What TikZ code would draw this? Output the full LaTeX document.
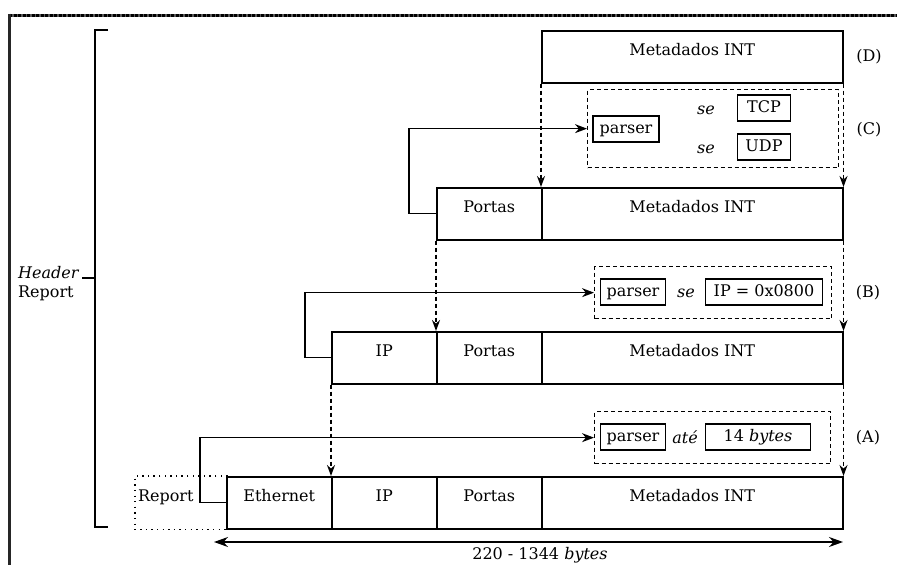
\documentclass[tikz,border=0pt]{standalone}
\usepackage{fontspec}
\setmainfont{DejaVu Serif}
\usetikzlibrary{arrows.meta}
\begin{document}
\begin{tikzpicture}[x=1pt,y=-1pt,
  every node/.style={font=\fontsize{16}{19}\selectfont},
  cell/.style={draw, line width=1.5pt, inner sep=0pt, anchor=north west,
    minimum height=52pt, text height=25pt, text depth=27pt},
  wide/.style={cell, minimum width=301pt},
  narrow/.style={cell, minimum width=105pt},
  tag/.style={draw, line width=1.4pt, inner sep=0pt, minimum height=26pt, text height=12pt, text depth=3.5pt},
  frame/.style={draw, line width=1.3pt, dash pattern=on 4pt off 3pt, inner sep=0pt, anchor=north west},
  plain/.style={inner sep=0pt},
  flow/.style={line width=1.4pt, -{Stealth[length=12pt,width=9pt]}},
  drop/.style={line width=1.4pt, dash pattern=on 4pt off 3pt, -{Stealth[length=11pt,width=8pt]}},
  span/.style={line width=1.4pt, {Stealth[length=14pt,width=10pt]}-{Stealth[length=14pt,width=10pt]}},
]
\useasboundingbox (0,0) rectangle (897,565);

% page frame
\draw[line width=3pt, black!65] (9,15) -- (897,15);
\draw[line width=3pt, black, dash pattern=on 3pt off 1.5pt] (9,15) -- (897,15);
\draw[line width=3pt, black!85] (9.5,13.5) -- (9.5,565);

% bracket with its label
\coordinate (bt) at (108,30);
\coordinate (bb) at (108,527);
\coordinate (bm) at (82,278);
\draw[line width=1.4pt] (bt) -- (95,30) -- (95,527) -- (bb);
\draw[line width=1.4pt] (95,278) -- (bm);
\node[plain, align=left, anchor=north west] (hdr) at (18,266) {\textit{Header}\\Report};

% (D)
\node[wide] (dm) at (541,30) {Metadados INT};
\node[plain] (lD) at (869,57) {(D)};

% (C) parser
\node[frame, minimum width=251pt, minimum height=78pt] (fc) at (587,89) {};
\node[tag, minimum width=66pt] (pc) at (626,129) {parser};
\node[plain] (sc1) at (706,110) {\textit{se}};
\node[plain] (sc2) at (706,149) {\textit{se}};
\node[tag, minimum width=53pt] (tcp) at (764,108) {TCP};
\node[tag, minimum width=53pt] (udp) at (764,147) {UDP};
\node[plain] (lC) at (869,130) {(C)};

% row after (C)
\node[narrow] (cp) at (436,187) {Portas};
\node[wide] (cm) at (541,187) {Metadados INT};

% (B) parser
\node[frame, minimum width=237pt, minimum height=52pt] (fb) at (594,266) {};
\node[tag, minimum width=65pt] (pb) at (633,292) {parser};
\node[plain] (sb) at (686,293) {\textit{se}};
\node[tag, minimum width=117pt] (ipb) at (764,292) {IP = 0x0800};
\node[plain] (lB) at (868,293) {(B)};

% row after (B)
\node[narrow] (bi) at (331,331) {IP};
\node[narrow] (bp) at (436,331) {Portas};
\node[wide] (bm2) at (541,331) {Metadados INT};

% (A) parser
\node[frame, minimum width=236pt, minimum height=52pt] (fa) at (594,411) {};
\node[tag, minimum width=65pt] (pa) at (633,437) {parser};
\node[plain] (sa) at (685,437) {\textit{até}};
\node[tag, minimum width=105pt] (ba) at (758,437) {14 \textit{bytes}};
\node[plain] (lA) at (868,438) {(A)};

% full report: dotted outline with its text
\node[cell, draw=none, minimum width=91pt] (rep) at (135,476) {};
\node[cell, draw=none, minimum width=60pt] (reptxt) at (135,476) {Report};
\draw[line width=1.3pt, dash pattern=on 1.3pt off 4.3pt] (rep.north east) -- (rep.north west) -- (rep.south west) -- (rep.south east);
\node[narrow] (ae) at (226,476) {Ethernet};
\node[narrow] (ai) at (331,476) {IP};
\node[narrow] (ap) at (436,476) {Portas};
\node[wide] (am) at (541,476) {Metadados INT};

% dashed drops between stages
\draw[drop] (dm.south west) -- (cm.north west);
\draw[drop] (dm.south east) -- (cm.north east);
\draw[drop] (cp.south west) -- (bp.north west);
\draw[drop] (cm.south east) -- (bm2.north east);
\draw[drop] (bi.south west) -- (ai.north west);
\draw[drop] (bm2.south east) -- (am.north east);

% feeds into the parsers
\draw[flow] (cp.west) -- ++(-27,0) |- (fc.west);
\draw[flow] (bi.west) -- ++(-26,0) |- (fb.west);
\draw[flow] (ae.west) -- ++(-26,0) |- (fa.west);

% total length
\coordinate (wl) at (214,542);
\coordinate (wr) at (843,542);
\draw[span] (wl) -- (wr);
\node[plain] (len) at (540,555) {220 - 1344 \textit{bytes}};
\end{tikzpicture}
\end{document}
